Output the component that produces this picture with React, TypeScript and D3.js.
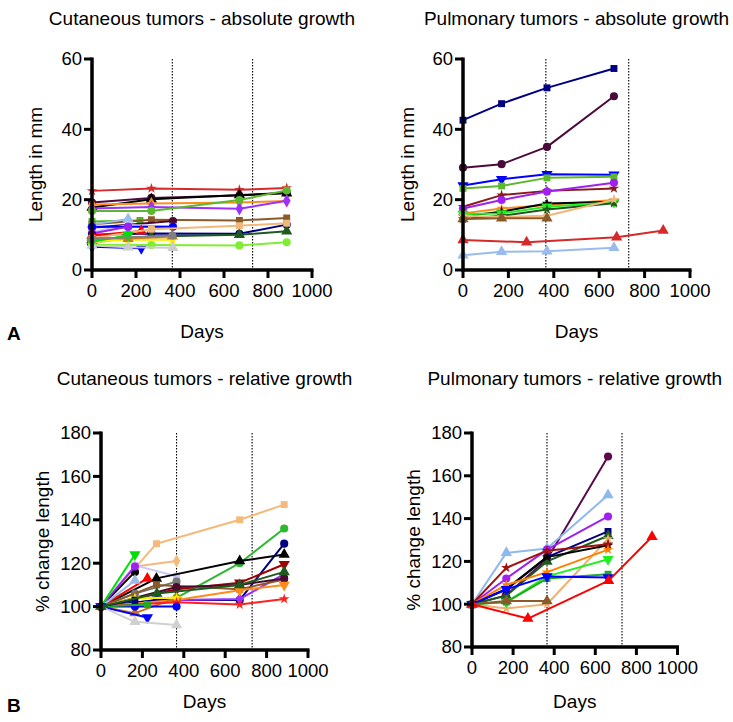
import React from "react";
import * as d3 from "d3";

// ---------------- DATA ----------------
const xTicks = [0, 200, 400, 600, 800, 1000];
const absTicks = [0, 20, 40, 60];
const relTicks = [80, 100, 120, 140, 160, 180];
const refDays = [365, 730];

// Cutaneous tumors - absolute growth (mm)
const cutAbsDays = [
  [0, 270, 670, 885], [0, 270, 670, 885], [0, 270, 670, 885], [0, 270, 670, 885],
  [0, 270, 670, 885], [0, 270, 670, 885], [0, 218], [0, 270, 670, 885],
  [0, 368], [0, 164], [0, 164, 368], [0, 164, 368], [0, 164],
  [0, 270, 670, 885], [0, 270, 670, 885], [0, 224], [0, 270, 670, 885],
  [0, 164, 368], [0, 164, 365], [0, 164, 365], [0, 224], [0, 270, 670, 885],
  [0, 164, 368], [0, 164], [0, 365],
];
const cutAbsValues = [
  [22.5, 23.2, 22.8, 23.3], [19.2, 20.5, 21.2, 22.0], [17.8, 20.1, 21.3, 21.8], [18.6, 18.9, 19.2, 19.6],
  [17.5, 17.9, 17.4, 19.7], [16.8, 16.8, 19.9, 22.6], [13.8, 14.1], [13.0, 14.3, 14.1, 14.8],
  [12.0, 13.9], [12.9, 14.5], [10.8, 12.8, 12.4], [12.3, 12.3, 12.3], [10.4, 12.3],
  [10.0, 10.4, 10.3, 12.9], [8.6, 9.5, 10.0, 11.0], [9.8, 11.1], [9.0, 11.6, 12.6, 13.3],
  [7.6, 9.0, 9.2], [8.3, 8.6, 8.6], [9.2, 8.9, 9.6], [6.6, 6.2], [7.2, 7.1, 7.0, 7.9],
  [7.0, 6.5, 6.3], [8.0, 9.9], [8.8, 9.8],
];
const cutAbsColors = [
  "#d42a2a", "#4b0a3c", "#000000", "#ff8c1a",
  "#9b30ff", "#5cb82e", "#44bb22", "#8b5a2b",
  "#4a0a30", "#99bbee", "#c8c8ff", "#0000ff", "#a020f0",
  "#000080", "#1e5a1e", "#ff0000", "#f0b87a",
  "#f0b87a", "#ffee00", "#d07a20", "#0000ff", "#80ee30",
  "#cccccc", "#00e000", "#808080",
];
const cutAbsShapes = [
  "star", "circle", "triangle", "diamond",
  "diamond", "circle", "square", "square",
  "circle", "triangle", "square", "circle", "circle",
  "circle", "triangle", "triangle", "square",
  "diamond", "star", "triangle", "triangleDown", "circle",
  "triangle", "triangleDown", "circle",
];

// Pulmonary tumors - absolute growth (mm)
const pulAbsDays = [
  [0, 170, 370, 665], [0, 170, 370, 665], [0, 170, 370, 665], [0, 170, 370, 665],
  [0, 170, 370, 665], [0, 170, 370, 665], [0, 170, 370, 665], [0, 170, 370, 665],
  [0, 170, 370, 665], [0, 170, 370, 665], [0, 170, 370, 665], [0, 170, 370],
  [0, 280, 677, 882], [0, 170, 370, 665],
];
const pulAbsValues = [
  [42.6, 47.3, 51.8, 57.3], [29.1, 30.1, 35.0, 49.4], [24.0, 25.8, 27.2, 27.1], [23.2, 23.9, 26.2, 26.5],
  [18.0, 21.3, 22.5, 23.2], [17.5, 19.9, 22.3, 24.8], [16.1, 17.5, 18.5, 19.9], [15.3, 16.6, 18.9, 19.4],
  [15.9, 16.1, 18.0, 19.3], [14.5, 15.4, 17.2, 19.0], [15.4, 15.1, 15.4, 20.0], [14.5, 14.7, 14.7],
  [8.5, 7.9, 9.3, 11.2], [4.2, 5.2, 5.3, 6.3],
];
const pulAbsColors = [
  "#000080", "#4b0a3c", "#0000ff", "#5cb82e",
  "#8b1a1a", "#a020f0", "#ff8c1a", "#000000",
  "#22ee22", "#1e5a1e", "#f0b87a", "#8b5a2b",
  "#d42a2a", "#99bbee",
];
const pulAbsShapes = [
  "square", "circle", "triangleDown", "square",
  "star", "circle", "star", "star",
  "triangleDown", "star", "star", "triangle",
  "triangle", "triangle",
];

// Cutaneous tumors - relative growth (%)
const cutRelDays = [
  [0, 268, 670, 885], [0, 164, 365], [0, 164, 365], [0, 365, 670, 885],
  [0, 270, 670, 885], [0, 268, 670, 885], [0, 164], [0, 365, 670, 885],
  [0, 164], [0, 365, 670, 885], [0, 164], [0, 224], [0, 164],
  [0, 164, 365], [0, 268, 670, 885], [0, 365, 670, 885], [0, 365, 670, 885],
  [0, 164, 365], [0, 164, 365], [0, 365, 670, 885], [0, 164, 365], [0, 224],
  [0, 164, 365], [0, 224], [0, 164], [0, 270, 670, 885],
];
const cutRelValues = [
  [100, 129, 140, 147], [100, 118.5, 121], [100, 119, 114], [100, 104, 120, 136],
  [100, 103, 103, 129], [100, 113, 121, 124], [100, 116], [100, 108, 111, 119.5],
  [100, 118.5], [100, 103, 103.5, 115], [100, 124], [100, 113], [100, 112],
  [100, 106, 111.5], [100, 110, 108, 112.5], [100, 109, 110, 113], [100, 103, 107.5, 110],
  [100, 97, 104], [100, 104, 104], [100, 102, 101, 103.5], [100, 100, 100], [100, 95],
  [100, 93, 91.5], [100, 101], [100, 103], [100, 106, 110, 116],
];
const cutRelColors = [
  "#f5b97a", "#f5b97a", "#c8c8ff", "#2db82d",
  "#000080", "#000000", "#000000", "#a00000",
  "#a020f0", "#9b30ff", "#00e000", "#ff0000", "#99bbee",
  "#777777", "#8b5a2b", "#4a0a30", "#ff8c1a",
  "#c87020", "#ffee00", "#ff2020", "#0000ff", "#0000ff",
  "#d0d0d0", "#22aa22", "#000080", "#1e5a1e",
];
const cutRelShapes = [
  "square", "diamond", "square", "circle",
  "circle", "triangle", "circle", "triangleDown",
  "circle", "diamond", "triangleDown", "triangle", "triangle",
  "circle", "square", "circle", "triangleDown",
  "triangle", "star", "star", "circle", "triangleDown",
  "triangle", "square", "square", "triangle",
];

// Pulmonary tumors - relative growth (%)
const pulRelDays = [
  [0, 164, 365, 662], [0, 167, 365, 662], [0, 167, 365, 662], [0, 167, 365, 662],
  [0, 167, 365, 662], [0, 167, 365, 662], [0, 167, 365, 662], [0, 167, 365, 662],
  [0, 167, 365, 662], [0, 167, 365, 662], [0, 167, 365, 662], [0, 167, 365, 662],
  [0, 167, 365], [0, 272, 665, 876],
];
const pulRelValues = [
  [100, 104, 121, 169], [100, 124, 126, 151], [100, 112, 125.5, 141], [100, 107, 122, 134],
  [100, 104, 120, 132], [100, 98, 100, 130.5], [100, 107, 122, 127.5], [100, 117, 125, 128],
  [100, 109, 115, 125.5], [100, 101, 113, 121], [100, 101, 112, 114], [100, 107, 113, 112.5],
  [100, 101.5, 101.5], [100, 93.3, 111, 131.5],
];
const pulRelColors = [
  "#5a0a4a", "#8fb8f0", "#a020f0", "#000080",
  "#1e5a1e", "#f0b070", "#000000", "#a01010",
  "#ff8000", "#22ee22", "#22aa22", "#0000ff",
  "#8b5a2b", "#ff0000",
];
const pulRelShapes = [
  "circle", "triangle", "circle", "square",
  "triangle", "star", "star", "star",
  "star", "triangleDown", "square", "triangleDown",
  "triangle", "triangle",
];

// ---------------- RENDERING ----------------
const FONT = "'Liberation Sans', Arial, Helvetica, sans-serif";

const symbolTypes: Record<string, d3.SymbolType> = {
  circle: d3.symbolCircle,
  square: d3.symbolSquare,
  triangle: d3.symbolTriangle,
  triangleDown: d3.symbolTriangle,
  diamond: d3.symbolDiamond,
  star: d3.symbolStar,
};
const symbolSizes: Record<string, number> = {
  circle: 52, square: 48, triangle: 55, triangleDown: 55, diamond: 50, star: 34,
};

type PanelProps = {
  title: string;
  yLabel: string;
  days: number[][];
  values: number[][];
  colors: string[];
  shapes: string[];
  yDomain: [number, number];
  yTicks: number[];
  xPx: [number, number];
  yPx: [number, number];
  titleY: number;
  yLabelX: number;
  daysY: number;
};

function Panel(p: PanelProps) {
  const x = d3.scaleLinear().domain([0, 1000]).range(p.xPx);
  const y = d3.scaleLinear().domain(p.yDomain).range(p.yPx);
  const line = d3.line<[number, number]>().x((d) => x(d[0])).y((d) => y(d[1]));
  const yb = p.yPx[0];
  const yt = p.yPx[1];
  const cx = (p.xPx[0] + p.xPx[1]) / 2;
  return (
    <g fontFamily={FONT}>
      <text x={cx} y={p.titleY} textAnchor="middle" fontSize={19}>{p.title}</text>
      {refDays.map((d) => (
        <line key={d} x1={x(d)} x2={x(d)} y1={yt} y2={yb} stroke="#000" strokeWidth={1.1} strokeDasharray="1.5,1.5" />
      ))}
      {p.days.map((ds, i) => {
        const pts = ds.map((d, j) => [d, p.values[i][j]] as [number, number]);
        return (
          <g key={i}>
            <path d={line(pts) || ""} fill="none" stroke={p.colors[i]} strokeWidth={2} strokeLinejoin="round" />
            {pts.map((pt, j) => {
              const s = p.shapes[i];
              const path = d3.symbol().type(symbolTypes[s]).size(symbolSizes[s])() || "";
              return (
                <path key={j} d={path} fill={p.colors[i]}
                  transform={`translate(${x(pt[0])},${y(pt[1])})${s === "triangleDown" ? " rotate(180)" : ""}`} />
              );
            })}
          </g>
        );
      })}
      <line x1={p.xPx[0]} x2={p.xPx[0]} y1={yt - 1.5} y2={yb + 1.5} stroke="#000" strokeWidth={3.5} />
      <line x1={p.xPx[0] - 1.5} x2={p.xPx[1] + 1.5} y1={yb} y2={yb} stroke="#000" strokeWidth={3.5} />
      {p.yTicks.map((t) => (
        <g key={"y" + t}>
          <line x1={p.xPx[0] - 8} x2={p.xPx[0]} y1={y(t)} y2={y(t)} stroke="#000" strokeWidth={3} />
          <text x={p.xPx[0] - 10} y={y(t)} dy="0.35em" textAnchor="end" fontSize={18.5}>{t}</text>
        </g>
      ))}
      {xTicks.map((t) => (
        <g key={"x" + t}>
          <line x1={x(t)} x2={x(t)} y1={yb} y2={yb + 8} stroke="#000" strokeWidth={3} />
          <text x={x(t)} y={yb + 27} textAnchor="middle" fontSize={18.5}>{t}</text>
        </g>
      ))}
      <text x={cx} y={p.daysY} textAnchor="middle" fontSize={19}>Days</text>
      <text transform={`translate(${p.yLabelX},${(yb + yt) / 2}) rotate(-90)`} textAnchor="middle" dy="0.35em" fontSize={19}>{p.yLabel}</text>
    </g>
  );
}

export default function App() {
  return (
    <svg width={733} height={722} style={{ position: "absolute", left: 0, top: 0, background: "#fff" }}>
      <rect width={733} height={722} fill="#fff" />
      <Panel title="Cutaneous tumors - absolute growth" yLabel="Length in mm"
        days={cutAbsDays} values={cutAbsValues} colors={cutAbsColors} shapes={cutAbsShapes}
        yDomain={[0, 60]} yTicks={absTicks} xPx={[92, 312]} yPx={[270, 59]}
        titleY={25} yLabelX={35} daysY={338} />
      <Panel title="Pulmonary tumors - absolute growth" yLabel="Length in mm"
        days={pulAbsDays} values={pulAbsValues} colors={pulAbsColors} shapes={pulAbsShapes}
        yDomain={[0, 60]} yTicks={absTicks} xPx={[463, 690]} yPx={[270, 59]}
        titleY={25} yLabelX={407} daysY={338} />
      <Panel title="Cutaneous tumors - relative growth" yLabel="% change length"
        days={cutRelDays} values={cutRelValues} colors={cutRelColors} shapes={cutRelShapes}
        yDomain={[80, 180]} yTicks={relTicks} xPx={[101, 308]} yPx={[650, 433]}
        titleY={385} yLabelX={42} daysY={708} />
      <Panel title="Pulmonary tumors - relative growth" yLabel="% change length"
        days={pulRelDays} values={pulRelValues} colors={pulRelColors} shapes={pulRelShapes}
        yDomain={[80, 180]} yTicks={relTicks} xPx={[472, 677.5]} yPx={[647, 433]}
        titleY={385} yLabelX={413} daysY={708} />
      <text x={7} y={340} fontFamily={FONT} fontWeight="bold" fontSize={19}>A</text>
      <text x={7} y={712} fontFamily={FONT} fontWeight="bold" fontSize={19}>B</text>
    </svg>
  );
}
